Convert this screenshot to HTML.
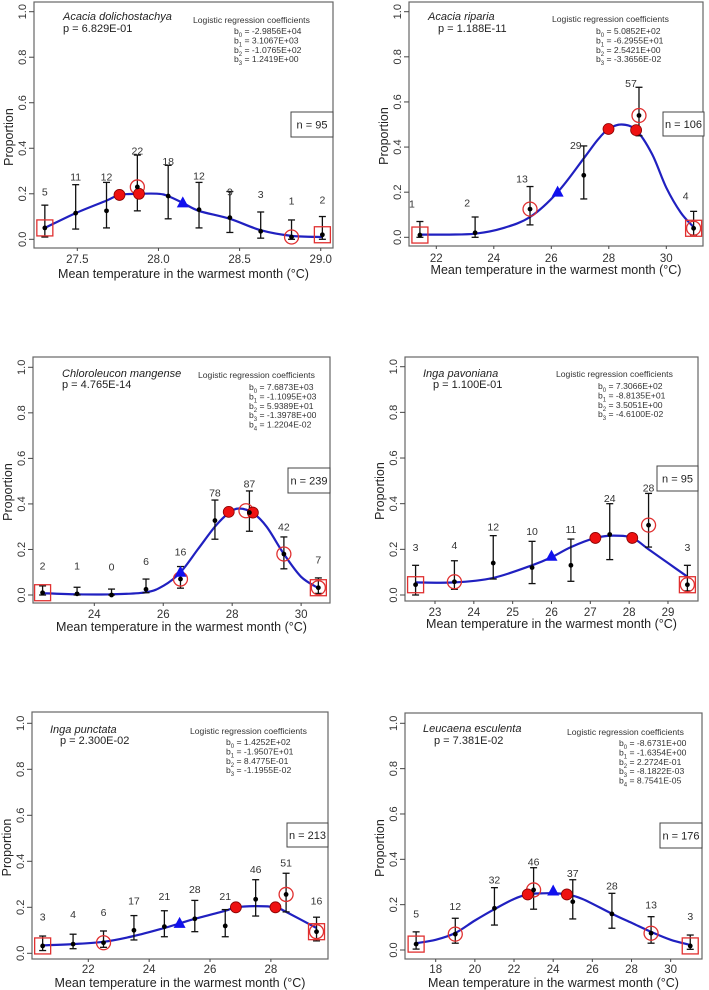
<!DOCTYPE html>
<html><head><meta charset="utf-8"><style>
html,body{margin:0;padding:0;background:#fff;}
svg{display:block;font-family:"Liberation Sans",Arial,sans-serif;}
</style></head><body>
<svg id="fig" width="709" height="990" viewBox="0 0 709 990"></svg>
<script>
// ---------- data ----------
const p1Bins=[27.3,27.49,27.68,27.87,28.06,28.25,28.44,28.63,28.82,29.01];
const p1Prop=[0.05,0.115,0.125,0.23,0.19,0.13,0.095,0.035,0.01,0.02];
const p1Lo=[0.01,0.045,0.05,0.125,0.09,0.05,0.03,0.005,0,0];
const p1Hi=[0.15,0.24,0.25,0.37,0.325,0.25,0.21,0.12,0.085,0.1];
const p1N=[5,11,12,22,18,12,9,3,1,2];
const p1LabY=[0.21,0.275,0.275,0.39,0.345,0.28,0.21,0.2,0.17,0.175];
const p1CurveX=[27.3,27.49,27.68,27.76,27.88,28.0,28.06,28.15,28.25,28.44,28.63,28.82,29.01];
const p1CurveY=[0.05,0.115,0.17,0.195,0.2,0.2,0.19,0.16,0.125,0.09,0.04,0.015,0.01];

const p2Bins=[21.43,23.35,25.26,27.13,29.05,30.95];
const p2Prop=[0.01,0.02,0.125,0.275,0.54,0.04];
const p2Lo=[0,0,0.055,0.17,0.45,0.01];
const p2Hi=[0.07,0.09,0.225,0.405,0.665,0.115];
const p2N=[1,2,13,29,57,4];
const p2LabY=[0.15,0.155,0.26,0.41,0.685,0.185];
const p2CurveX=[21.43,22.4,23.35,24.3,25.26,26.22,27.13,27.6,27.99,28.45,28.95,29.5,30.0,30.5,30.95];
const p2CurveY=[0.012,0.012,0.016,0.04,0.09,0.2,0.35,0.43,0.48,0.5,0.475,0.37,0.22,0.11,0.045];

const p3Bins=[22.5,23.5,24.5,25.5,26.5,27.5,28.5,29.5,30.5];
const p3Prop=[0.01,0.005,0,0.025,0.07,0.327,0.362,0.18,0.032];
const p3Lo=[0,0,0,0.01,0.03,0.245,0.28,0.115,0.007];
const p3Hi=[0.04,0.034,0.026,0.07,0.125,0.417,0.457,0.255,0.075];
const p3N=[2,1,0,6,16,78,87,42,7];
const p3LabY=[0.13,0.13,0.125,0.15,0.19,0.45,0.49,0.3,0.155];
const p3CurveX=[22.5,23.5,24.5,25.5,26.0,26.5,27.0,27.5,27.9,28.2,28.6,29.0,29.5,30.0,30.5];
const p3CurveY=[0.008,0.003,0.003,0.012,0.04,0.1,0.2,0.3,0.36,0.38,0.36,0.3,0.18,0.08,0.03];

const p4Bins=[22.5,23.5,24.5,25.5,26.5,27.5,28.5,29.5];
const p4Prop=[0.045,0.058,0.14,0.12,0.13,0.265,0.306,0.045];
const p4Lo=[0,0.025,0.07,0.05,0.06,0.155,0.21,0.018];
const p4Hi=[0.13,0.15,0.26,0.235,0.245,0.4,0.445,0.13];
const p4N=[3,4,12,10,11,24,28,3];
const p4LabY=[0.21,0.22,0.3,0.28,0.29,0.425,0.47,0.21];
const p4CurveX=[22.5,23.5,24.5,25.5,26.0,26.5,27.13,27.6,28.08,28.5,29.0,29.5];
const p4CurveY=[0.055,0.055,0.075,0.13,0.165,0.21,0.25,0.26,0.25,0.2,0.14,0.08];

const p5Bins=[20.5,21.5,22.5,23.5,24.5,25.5,26.5,27.5,28.5,29.5];
const p5Prop=[0.032,0.04,0.046,0.1,0.116,0.15,0.119,0.235,0.256,0.094];
const p5Lo=[0.012,0.02,0.026,0.058,0.072,0.094,0.072,0.162,0.18,0.054];
const p5Hi=[0.075,0.083,0.097,0.164,0.185,0.23,0.19,0.32,0.348,0.157];
const p5N=[3,4,6,17,21,28,21,46,51,16];
const p5LabY=[0.16,0.17,0.18,0.23,0.25,0.28,0.25,0.367,0.395,0.23];
const p5CurveX=[20.5,21.5,22.5,23.5,24.5,25.0,25.5,26.5,26.85,27.5,28.15,28.5,29.5];
const p5CurveY=[0.035,0.04,0.05,0.075,0.11,0.13,0.15,0.185,0.2,0.205,0.2,0.18,0.11];

const p6Bins=[17,19,21,23,25,27,29,31];
const p6Prop=[0.026,0.07,0.184,0.265,0.213,0.159,0.074,0.018];
const p6Lo=[0.004,0.03,0.11,0.18,0.137,0.096,0.03,0.003];
const p6Hi=[0.08,0.14,0.275,0.363,0.31,0.25,0.147,0.066];
const p6N=[5,12,32,46,37,28,13,3];
const p6LabY=[0.16,0.195,0.31,0.39,0.34,0.285,0.2,0.15];
const p6CurveX=[17,18,19,20,21,22,22.7,23.5,24,24.7,25.5,27,28,29,30,31];
const p6CurveY=[0.03,0.045,0.075,0.13,0.18,0.225,0.245,0.25,0.25,0.245,0.225,0.16,0.12,0.08,0.045,0.022];

const panels=[
 {id:'acacia-dolichostachya',sp:'Acacia dolichostachya',p:'p = 6.829E-01',n:'n = 95',
  coef:['b<tspan baseline-shift="sub" font-size="6">0</tspan> = -2.9856E+04','b<tspan baseline-shift="sub" font-size="6">1</tspan> = 3.1067E+03','b<tspan baseline-shift="sub" font-size="6">2</tspan> = -1.0765E+02','b<tspan baseline-shift="sub" font-size="6">3</tspan> = 1.2419E+00'],
  L:34,R:333,T:2,B:248,xv0:27.5,xa:77.3,xk:162.3,y0:239.3,y1:11.7,xt:[27.5,28,28.5,29],xd:1,
  tickY:263,titleY:278,spX:63,spY:20,pX:63,pY:32,chX:193,chY:23,bX:234,bY:34,nb:[291,112,42,25],labDx:0,
  bins:p1Bins,prop:p1Prop,lo:p1Lo,hi:p1Hi,nn:p1N,labY:p1LabY,cx:p1CurveX,cy:p1CurveY,
  sq:[0,9],oc:[[27.87,0.23],[28.82,0.01]],fc:[[27.76,0.195],[27.88,0.2]],tri:[28.15,0.16]},
 {id:'acacia-riparia',sp:'Acacia riparia',p:'p = 1.188E-11',n:'n = 106',
  coef:['b<tspan baseline-shift="sub" font-size="6">0</tspan> = 5.0852E+02','b<tspan baseline-shift="sub" font-size="6">1</tspan> = -6.2955E+01','b<tspan baseline-shift="sub" font-size="6">2</tspan> = 2.5421E+00','b<tspan baseline-shift="sub" font-size="6">3</tspan> = -3.3656E-02'],
  L:409,R:703,T:2,B:246,xv0:22,xa:436.3,xk:28.75,y0:237.3,y1:11.7,xt:[22,24,26,28,30],xd:0,
  tickY:262,titleY:274,spX:428,spY:20,pX:438,pY:32,chX:552,chY:22,bX:596,bY:34,nb:[663,112,41,24],labDx:-8,
  bins:p2Bins,prop:p2Prop,lo:p2Lo,hi:p2Hi,nn:p2N,labY:p2LabY,cx:p2CurveX,cy:p2CurveY,
  sq:[0,5],oc:[[25.26,0.125],[29.05,0.54],[30.95,0.04]],fc:[[27.99,0.48],[28.95,0.475]],tri:[26.22,0.2]},
 {id:'chloroleucon-mangense',sp:'Chloroleucon mangense',p:'p = 4.765E-14',n:'n = 239',
  coef:['b<tspan baseline-shift="sub" font-size="6">0</tspan> = 7.6873E+03','b<tspan baseline-shift="sub" font-size="6">1</tspan> = -1.1095E+03','b<tspan baseline-shift="sub" font-size="6">2</tspan> = 5.9389E+01','b<tspan baseline-shift="sub" font-size="6">3</tspan> = -1.3978E+00','b<tspan baseline-shift="sub" font-size="6">4</tspan> = 1.2204E-02'],
  L:33,R:330,T:357,B:603,xv0:24,xa:94.3,xk:34.47,y0:595,y1:367.3,xt:[24,26,28,30],xd:0,
  tickY:618,titleY:631,spX:62,spY:377,pX:62,pY:388,chX:198,chY:378,bX:249,bY:390,nb:[288,468,42,25],labDx:0,
  bins:p3Bins,prop:p3Prop,lo:p3Lo,hi:p3Hi,nn:p3N,labY:p3LabY,cx:p3CurveX,cy:p3CurveY,
  sq:[0,8],oc:[[26.5,0.07],[28.4,0.37],[29.5,0.18],[30.5,0.032]],fc:[[27.9,0.365],[28.6,0.362]],tri:[26.5,0.1]},
 {id:'inga-pavoniana',sp:'Inga pavoniana',p:'p = 1.100E-01',n:'n = 95',
  coef:['b<tspan baseline-shift="sub" font-size="6">0</tspan> = 7.3066E+02','b<tspan baseline-shift="sub" font-size="6">1</tspan> = -8.8135E+01','b<tspan baseline-shift="sub" font-size="6">2</tspan> = 3.5051E+00','b<tspan baseline-shift="sub" font-size="6">3</tspan> = -4.6100E-02'],
  L:405,R:698,T:357,B:601,xv0:23,xa:435,xk:38.83,y0:595,y1:366.7,xt:[23,24,25,26,27,28,29],xd:0,
  tickY:616,titleY:628,spX:423,spY:377,pX:433,pY:388,chX:556,chY:377,bX:598,bY:389,nb:[657,466,41,25],labDx:0,
  bins:p4Bins,prop:p4Prop,lo:p4Lo,hi:p4Hi,nn:p4N,labY:p4LabY,cx:p4CurveX,cy:p4CurveY,
  sq:[0,7],oc:[[23.5,0.058],[28.5,0.306],[29.5,0.045]],fc:[[27.13,0.25],[28.08,0.25]],tri:[26.0,0.17]},
 {id:'inga-punctata',sp:'Inga punctata',p:'p = 2.300E-02',n:'n = 213',
  coef:['b<tspan baseline-shift="sub" font-size="6">0</tspan> = 1.4252E+02','b<tspan baseline-shift="sub" font-size="6">1</tspan> = -1.9507E+01','b<tspan baseline-shift="sub" font-size="6">2</tspan> = 8.4775E-01','b<tspan baseline-shift="sub" font-size="6">3</tspan> = -1.1955E-02'],
  L:32,R:328,T:712,B:959,xv0:22,xa:88.3,xk:30.43,y0:953.3,y1:723.3,xt:[22,24,26,28],xd:0,
  tickY:973,titleY:987,spX:50,spY:733,pX:60,pY:744,chX:190,chY:734,bX:226,bY:745,nb:[287,823,41,24],labDx:0,
  bins:p5Bins,prop:p5Prop,lo:p5Lo,hi:p5Hi,nn:p5N,labY:p5LabY,cx:p5CurveX,cy:p5CurveY,
  sq:[0,9],oc:[[22.5,0.046],[28.5,0.256],[29.5,0.094]],fc:[[26.85,0.2],[28.15,0.2]],tri:[25.0,0.13]},
 {id:'leucaena-esculenta',sp:'Leucaena esculenta',p:'p = 7.381E-02',n:'n = 176',
  coef:['b<tspan baseline-shift="sub" font-size="6">0</tspan> = -8.6731E+00','b<tspan baseline-shift="sub" font-size="6">1</tspan> = -1.6354E+00','b<tspan baseline-shift="sub" font-size="6">2</tspan> = 2.2724E-01','b<tspan baseline-shift="sub" font-size="6">3</tspan> = -8.1822E-03','b<tspan baseline-shift="sub" font-size="6">4</tspan> = 8.7541E-05'],
  L:405,R:702,T:713,B:959,xv0:18,xa:435.7,xk:19.58,y0:950,y1:723.3,xt:[18,20,22,24,26,28,30],xd:0,
  tickY:973,titleY:987,spX:423,spY:732,pX:434,pY:744,chX:567,chY:735,bX:619,bY:746,nb:[660,823,42,25],labDx:0,
  bins:p6Bins,prop:p6Prop,lo:p6Lo,hi:p6Hi,nn:p6N,labY:p6LabY,cx:p6CurveX,cy:p6CurveY,
  sq:[0,7],oc:[[19,0.07],[23,0.265],[29,0.074]],fc:[[22.7,0.245],[24.7,0.245]],tri:[24.0,0.26]}
];

// ---------- rendering ----------
const NS='http://www.w3.org/2000/svg';
const fig=document.getElementById('fig');
function mk(tag,attrs,parent){const e=document.createElementNS(NS,tag);for(const k in attrs)e.setAttribute(k,attrs[k]);parent.appendChild(e);return e;}
function txt(parent,x,y,s,attrs){const t=mk('text',Object.assign({x:x,y:y,'font-size':11,fill:'#222'},attrs||{}),parent);t.textContent=s;return t;}

panels.forEach(function(c){
  const sx=v=>c.xa+(v-c.xv0)*c.xk;
  const sy=v=>c.y0-v*(c.y0-c.y1);
  const g=mk('g',{},fig);
  
  

  const box=mk('rect',{x:c.L,y:c.T,width:c.R-c.L,height:c.B-c.T,fill:'none',stroke:'#666','stroke-width':1.2},g);
  
  

  const ya=mk('g',{},g);
  
  
  [0,0.2,0.4,0.6,0.8,1.0].forEach(function(v){
    const y=sy(v);
    mk('line',{x1:c.L-5,x2:c.L,y1:y,y2:y,stroke:'#444'},ya);
    const t=txt(ya,c.L-8,y,v.toFixed(1),{'text-anchor':'middle',transform:'rotate(-90 '+(c.L-8)+' '+y+')','font-size':11,fill:'#333'});
    
    
  });
  const yt=txt(g,c.L-21,(c.T+c.B)/2+12,'Proportion',{'text-anchor':'middle',transform:'rotate(-90 '+(c.L-21)+' '+((c.T+c.B)/2+12)+')','font-size':12.5});
  
  

  const xa=mk('g',{},g);
  
  
  c.xt.forEach(function(v){
    const x=sx(v);
    mk('line',{x1:x,x2:x,y1:c.B,y2:c.B+3,stroke:'#444'},xa);
    const t=txt(xa,x,c.tickY,v.toFixed(c.xd),{'text-anchor':'middle','font-size':11.5,fill:'#333'});
    
    
  });
  const xt=txt(g,(c.L+c.R)/2,c.titleY,'Mean temperature in the warmest month (°C)',{'text-anchor':'middle','font-size':12.5});
  
  

  const sp=txt(g,c.spX,c.spY,c.sp,{'font-style':'italic','font-size':11});
  
  
  const pv=txt(g,c.pX,c.pY,c.p,{'font-size':11});
  
  
  const ch=txt(g,c.chX,c.chY,'Logistic regression coefficients',{'font-size':8.6,fill:'#333'});
  
  
  c.coef.forEach(function(s,i){
    const t=mk('text',{x:c.bX,y:c.bY+i*9.4,'font-size':8.6,fill:'#333'},g);
    t.innerHTML=s;
    
    
  });
  const nb=mk('rect',{x:c.nb[0],y:c.nb[1],width:c.nb[2],height:c.nb[3],fill:'#fff',stroke:'#444'},g);
  
  
  const nt=txt(g,c.nb[0]+c.nb[2]/2,c.nb[1]+c.nb[3]/2+4,c.n,{'text-anchor':'middle','font-size':11});
  
  

  const P=c.cx.map((x,i)=>[sx(x),sy(c.cy[i])]);
  let d='M'+P[0][0].toFixed(1)+' '+P[0][1].toFixed(1);
  for(let i=0;i<P.length-1;i++){
    const p0=P[Math.max(0,i-1)],p1=P[i],p2=P[i+1],p3=P[Math.min(P.length-1,i+2)];
    const c1=[p1[0]+(p2[0]-p0[0])/6,p1[1]+(p2[1]-p0[1])/6];
    const c2=[p2[0]-(p3[0]-p1[0])/6,p2[1]-(p3[1]-p1[1])/6];
    d+=' C'+c1[0].toFixed(1)+' '+c1[1].toFixed(1)+' '+c2[0].toFixed(1)+' '+c2[1].toFixed(1)+' '+p2[0].toFixed(1)+' '+p2[1].toFixed(1);
  }
  const cur=mk('path',{d:d,fill:'none',stroke:'#2020c0','stroke-width':2.2},g);
  
  

  c.bins.forEach(function(b,i){
    const x=sx(b);
    const eb=mk('g',{stroke:'#111','stroke-width':1.3},g);
    
    
    mk('line',{x1:x,x2:x,y1:sy(c.lo[i]),y2:sy(c.hi[i])},eb);
    mk('line',{x1:x-3.5,x2:x+3.5,y1:sy(c.lo[i]),y2:sy(c.lo[i])},eb);
    mk('line',{x1:x-3.5,x2:x+3.5,y1:sy(c.hi[i]),y2:sy(c.hi[i])},eb);
    const lt=txt(g,x+c.labDx,sy(c.labY[i])+4,String(c.nn[i]),{'text-anchor':'middle','font-size':10.5,fill:'#333'});
    
    
  });

  c.oc.forEach(function(o){
    const m=mk('circle',{cx:sx(o[0]),cy:sy(o[1]),r:7,fill:'none',stroke:'#e03030','stroke-width':1.3},g);
    
    
  });
  c.sq.forEach(function(i){
    const x=sx(c.bins[i]),y=sy(c.prop[i]);
    const m=mk('rect',{x:x-8,y:y-8,width:16,height:16,fill:'none',stroke:'#e03030','stroke-width':1.3},g);
    
    
  });
  c.fc.forEach(function(o){
    const m=mk('circle',{cx:sx(o[0]),cy:sy(o[1]),r:5.5,fill:'#ee1111',stroke:'#800','stroke-width':0.8},g);
    
    
  });
  {
    const x=sx(c.tri[0]),y=sy(c.tri[1]);
    const m=mk('polygon',{points:(x-6)+','+(y+4.5)+' '+(x+6)+','+(y+4.5)+' '+x+','+(y-6.5),fill:'#1010ee'},g);
    
    
  }
  c.bins.forEach(function(b,i){
    const m=mk('circle',{cx:sx(b),cy:sy(c.prop[i]),r:2.4,fill:'#000'},g);
    
    
  });
});
</script>
</body></html>
